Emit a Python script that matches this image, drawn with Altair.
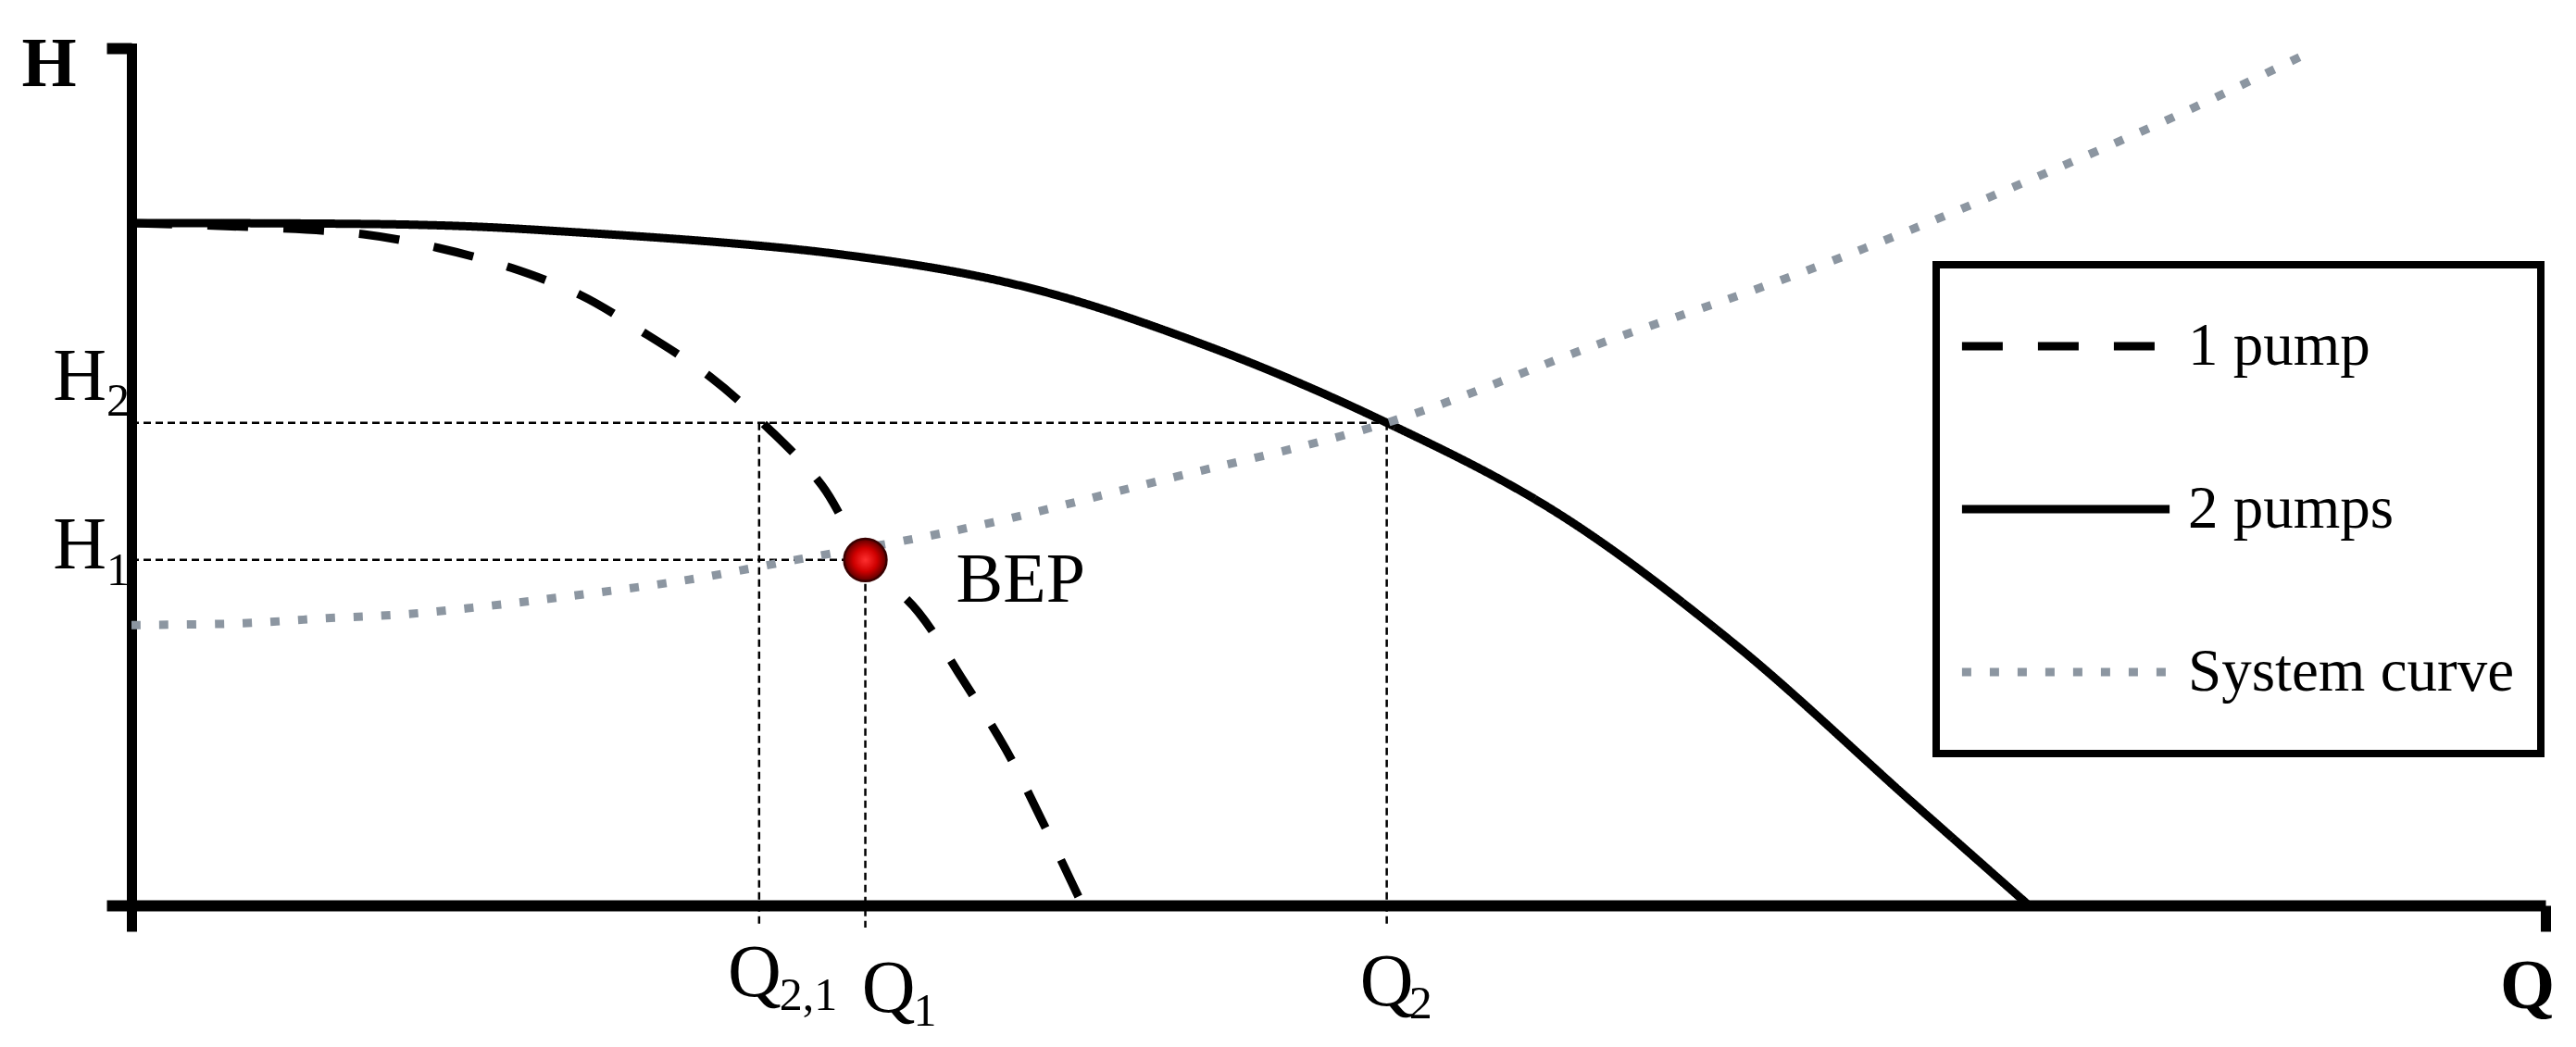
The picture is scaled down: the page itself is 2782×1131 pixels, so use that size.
import altair as alt
import pandas as pd

# ---------------- data (arbitrary units, Q: 0-100, H: 0-100) -------------
series_names = ["1 pump", "2 pumps", "System curve"]

pump1_q = [0, 5.2, 9.6, 12.7, 15.7, 18.6, 21.0, 24.0, 26.4, 28.6, 30.4, 32.6, 34.4, 36.2, 37.7, 39.4]
pump1_h = [79.6, 79.1, 78.3, 76.7, 74.4, 71.2, 67.2, 61.6, 55.6, 49.0, 40.5, 34.2, 26.5, 18.3, 10.0, 0]

pump2_q = [0, 11.7, 16.8, 29.2, 37.1, 44.9, 52.0, 59.0, 66.4, 73.7, 78.6]
pump2_h = [79.6, 79.4, 78.8, 76.0, 72.1, 64.9, 56.3, 45.9, 30.5, 12.2, 0]

system_q = [0, 4.56, 8.09, 11.5, 15.0, 18.5, 23.1, 27.7, 32.3, 35.7, 42.4, 52.0, 60.6, 68.3, 73.7, 79.2, 84.7, 90.0]
system_h = [32.7, 32.9, 33.5, 34.0, 35.0, 36.2, 38.0, 40.4, 42.7, 44.7, 49.4, 56.3, 65.3, 72.9, 78.8, 85.3, 92.1, 99.2]

# operating points
Q21, Q1, Q2 = 26.0, 30.4, 52.0
H2, H1 = 56.3, 40.3
bep_q, bep_h = [Q1], [H1]

# tick-like labels
ylab_main = ["H", "H"]
ylab_sub = ["2", "1"]
ylab_h = [H2, H1]
xlab_main = ["Q", "Q", "Q"]
xlab_sub = ["2,1", "1", "2"]
xlab_q = [Q21, Q1, Q2]

# ---------------- tables ----------------
curves = pd.DataFrame({
    "Q": pump1_q + pump2_q + system_q,
    "H": pump1_h + pump2_h + system_h,
    "series": [series_names[0]] * len(pump1_q)
    + [series_names[1]] * len(pump2_q)
    + [series_names[2]] * len(system_q),
})
hguides = pd.DataFrame({"Q0": [0, 0], "Q": [Q2, Q1], "H": [H2, H1]})
vguides = pd.DataFrame({"Q": [Q21, Q1, Q2], "H": [H2, H1, H2], "H0": [0, 0, 0]})
bep = pd.DataFrame({"Q": bep_q, "H": bep_h, "name": ["BEP"]})

FONT = "Liberation Serif"

x_axis = alt.Axis(
    values=[0, 100], labels=False, grid=False, title="Q",
    domainColor="black", domainWidth=12, domainCap="butt",
    tickColor="black", tickWidth=11, tickSize=28,
    titleFont=FONT, titleFontSize=76, titleFontWeight="bold", titleColor="black",
    titleAngle=0, titleX=2587, titleY=110, titleAlign="center", titleBaseline="alphabetic",
)
y_axis = alt.Axis(
    values=[0, 100], labels=False, grid=False, title="H",
    domainColor="black", domainWidth=11, domainCap="square",
    tickColor="black", tickWidth=12, tickSize=27,
    titleFont=FONT, titleFontSize=76, titleFontWeight="bold", titleColor="black",
    titleAngle=0, titleX=-89.5, titleY=40, titleAlign="center", titleBaseline="alphabetic",
)
x_scale = alt.Scale(domain=[0, 100], nice=False, zero=False)
y_scale = alt.Scale(domain=[0, 100], nice=False, zero=False)


def X(field):
    return alt.X(field, type="quantitative", scale=x_scale, axis=x_axis)


def Y(field):
    return alt.Y(field, type="quantitative", scale=y_scale, axis=y_axis)


legend = alt.Legend(
    title=" ", titleFontSize=10, titlePadding=16,
    orient="none", legendX=1949, legendY=234,
    padding=28, rowPadding=82,
    symbolType="M-3.8,0H3.8M0,1.39", symbolSize=3481, symbolStrokeWidth=9,
    symbolOffset=78, labelOffset=98,
    labelFont=FONT, labelFontSize=65, labelColor="black", labelLimit=1000,
    strokeColor="black", fillColor="white", cornerRadius=0,
)

# ---------------- layers ----------------
h_rules = alt.Chart(hguides).mark_rule(
    color="black", strokeWidth=2.5, strokeDash=[8, 5]
).encode(x=X("Q0"), x2="Q", y=Y("H"))

v_rules = alt.Chart(vguides).mark_rule(
    color="black", strokeWidth=2.5, strokeDash=[8, 5], y2Offset=24
).encode(x=X("Q"), y=Y("H"), y2="H0")

lines = alt.Chart(curves).mark_line(
    strokeWidth=9, interpolate="catmull-rom", strokeCap="butt"
).encode(
    x=X("Q"), y=Y("H"),
    color=alt.Color("series:N", scale=alt.Scale(domain=series_names,
                    range=["black", "black", "#8c96a1"]), legend=legend),
    strokeDash=alt.StrokeDash("series:N", scale=alt.Scale(domain=series_names,
                              range=[[44, 38], [1, 0], [10, 20]]), legend=legend),
    detail="series:N",
)

bep_point = alt.Chart(bep).mark_point(
    shape="circle", filled=True, size=2100, opacity=1,
    fill=alt.RadialGradient(
        gradient="radial",
        stops=[alt.GradientStop(color="#ff3030", offset=0),
               alt.GradientStop(color="#d00000", offset=0.55),
               alt.GradientStop(color="#5a0000", offset=1)],
    ),
    stroke="#3a0000", strokeWidth=2.5,
).encode(x=X("Q"), y=Y("H"))

bep_text = alt.Chart(bep).mark_text(
    align="left", baseline="alphabetic", dx=98, dy=45, fontSize=76, font=FONT, color="black"
).encode(x=X("Q"), y=Y("H"), text="name:N")


def text_layer(df, field, dx, dy, size, align):
    return alt.Chart(df).mark_text(
        align=align, baseline="alphabetic", dx=dx, dy=dy, fontSize=size, font=FONT, color="black"
    ).encode(x=X("Q"), y=Y("H"), text=f"{field}:N")


label_layers = []
# y-side labels H2, H1 : (main dy, sub dy)
y_offsets = [(-25, -8), (9, 27)]
for i in range(len(ylab_h)):
    df = pd.DataFrame({"Q": [0], "H": [ylab_h[i]], "main": [ylab_main[i]], "sub": [ylab_sub[i]]})
    label_layers.append(text_layer(df, "main", -27, y_offsets[i][0], 80, "right"))
    label_layers.append(text_layer(df, "sub", -27, y_offsets[i][1], 50, "left"))

# x-side labels Q2,1, Q1, Q2 : (main dx, main dy, sub dx, sub dy)
x_offsets = [(-5, 98, 22, 113), (25, 115, 52, 130), (0, 108, 24, 122)]
for i in range(len(xlab_q)):
    df = pd.DataFrame({"Q": [xlab_q[i]], "H": [0], "main": [xlab_main[i]], "sub": [xlab_sub[i]]})
    mdx, mdy, sdx, sdy = x_offsets[i]
    label_layers.append(text_layer(df, "main", mdx, mdy, 80, "center"))
    label_layers.append(text_layer(df, "sub", sdx, sdy, 50, "left"))

chart = alt.layer(
    h_rules, v_rules, lines, bep_point, bep_text, *label_layers
).properties(
    width=2607, height=926,
    autosize=alt.AutoSizeParams(type="none"),
    padding={"left": 134, "top": 44, "right": 25, "bottom": 145},
    background="white",
).configure(font=FONT).configure_view(stroke=None).configure_legend(strokeWidth=8)

chart.save("out.html", embed_options={"renderer": "svg", "actions": False})
